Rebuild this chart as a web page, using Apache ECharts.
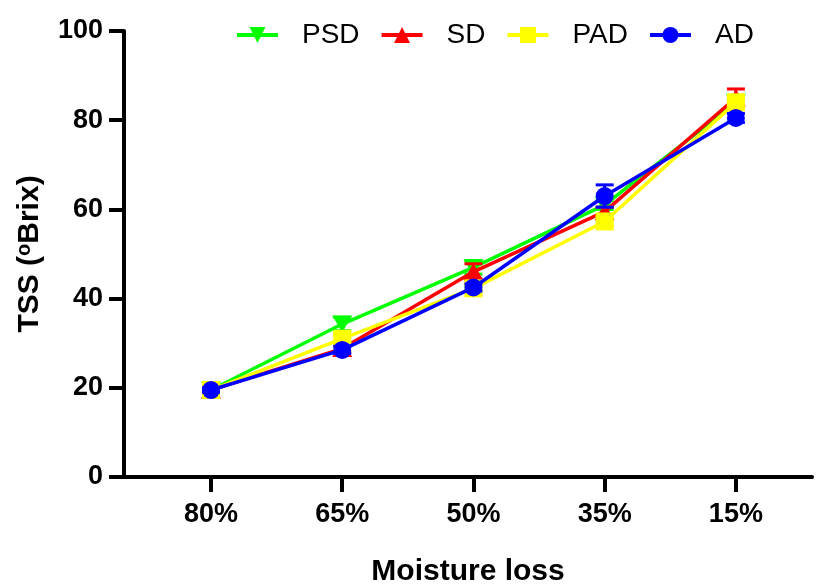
<!DOCTYPE html>
<html><head><meta charset="utf-8">
<script src="https://cdn.jsdelivr.net/npm/echarts@6/dist/echarts.min.js"></script>
<style>html,body{margin:0;padding:0;background:#fff}#c{width:817px;height:585px}</style>
</head><body><div id="c"></div>
<script>
const categories = ['80%', '65%', '50%', '35%', '15%'];
const seriesNames = ['PSD', 'SD', 'PAD', 'AD'];
const psd = [19.5, 34.3, 47.0, 61.0, 84.0];
const sd  = [19.5, 28.8, 46.0, 59.5, 85.0];
const pad = [19.5, 31.0, 42.3, 57.3, 84.0];
const ad  = [19.5, 28.5, 42.5, 63.0, 80.5];
const psdErr = [0.5, 1.5, 1.5, 1.0, 0.8];
const sdErr  = [0.5, 0.8, 1.8, 1.0, 2.0];
const padErr = [0.5, 1.0, 0.8, 1.0, 1.0];
const adErr  = [0.5, 0.8, 0.8, 2.5, 1.0];
const yTicks = [0, 20, 40, 60, 80, 100];

const colors = ['#00ff00', '#ff0000', '#ffff00', '#0000ff'];
const symbols = ['triangle', 'triangle', 'rect', 'circle'];
const rotates = [180, 0, 0, 0];
const vals = [psd, sd, pad, ad];
const errs = [psdErr, sdErr, padErr, adErr];
const FONT = 'Liberation Sans, Arial, sans-serif';

const series = [];
vals.forEach((v, k) => {
  series.push({
    type: 'custom', name: seriesNames[k] + ' error', z: 2 + k * 2, silent: true,
    data: v.map((y, i) => [i, y, errs[k][i]]),
    renderItem: function (params, api) {
      const x = api.value(0), y = api.value(1), e = api.value(2);
      const top = api.coord([x, y + e]);
      const bot = api.coord([x, y - e]);
      const hw = 9;
      const st = { stroke: colors[k], lineWidth: 3 };
      return { type: 'group', children: [
        { type: 'line', shape: { x1: top[0], y1: top[1], x2: bot[0], y2: bot[1] }, style: st },
        { type: 'line', shape: { x1: top[0] - hw, y1: top[1], x2: top[0] + hw, y2: top[1] }, style: st },
        { type: 'line', shape: { x1: bot[0] - hw, y1: bot[1], x2: bot[0] + hw, y2: bot[1] }, style: st }
      ]};
    }
  });
  series.push({
    type: 'line', name: seriesNames[k], z: 3 + k * 2,
    data: v.map((y, i) => [i, y]),
    symbol: symbols[k], symbolRotate: rotates[k],
    symbolSize: k < 2 ? [20, 17] : 18,
    showAllSymbol: true,
    lineStyle: { color: colors[k], width: 3.5 },
    itemStyle: { color: colors[k], opacity: 1 },
    emphasis: { disabled: true }
  });
});

const chart = echarts.init(document.getElementById('c'), null, { renderer: 'canvas' });
chart.setOption({
  animation: false,
  backgroundColor: '#fff',
  grid: { left: 124, right: 5, top: 31, bottom: 108, containLabel: false, outerBoundsMode: 'none' },
  legend: {
    top: 16, left: 230, itemGap: 20, itemWidth: 41, itemHeight: 20,
    data: seriesNames,
    lineStyle: { width: 4 },
    textStyle: { fontFamily: FONT, fontSize: 28, color: '#000', padding: [0, 0, 0, 19] }
  },
  xAxis: {
    type: 'value', min: -0.663, max: 4.58,
    name: 'Moisture loss', nameLocation: 'middle', nameGap: 80,
    nameTextStyle: { fontFamily: FONT, fontSize: 30, fontWeight: 'bold', color: '#000' },
    axisLine: { show: true, onZero: false, lineStyle: { color: '#000', width: 4 } },
    axisTick: { show: true, length: 15, customValues: [0, 1, 2, 3, 4], lineStyle: { color: '#000', width: 4 } },
    axisLabel: { customValues: [0, 1, 2, 3, 4], margin: 24, fontFamily: FONT, fontSize: 27, fontWeight: 'bold', color: '#000',
      formatter: v => categories[Math.round(v)] },
    splitLine: { show: false }
  },
  yAxis: {
    type: 'value', min: yTicks[0], max: yTicks[yTicks.length - 1], interval: 20,
    name: '{a|TSS (}{s|o}{a|Brix)}', nameLocation: 'middle', nameGap: 78, nameRotate: 90,
    nameTextStyle: { rich: {
      a: { fontFamily: FONT, fontSize: 30, fontWeight: 'bold', color: '#000' },
      s: { fontFamily: FONT, fontSize: 20, fontWeight: 'bold', color: '#000', verticalAlign: 'top', padding: [0, 0, 12, 0] }
    } },
    axisLine: { show: true, onZero: false, lineStyle: { color: '#000', width: 4 } },
    axisTick: { show: true, length: 15, lineStyle: { color: '#000', width: 4 } },
    axisLabel: { margin: 21, fontFamily: FONT, fontSize: 27, fontWeight: 'bold', color: '#000' },
    splitLine: { show: false }
  },
  series: series
});
</script></body></html>
